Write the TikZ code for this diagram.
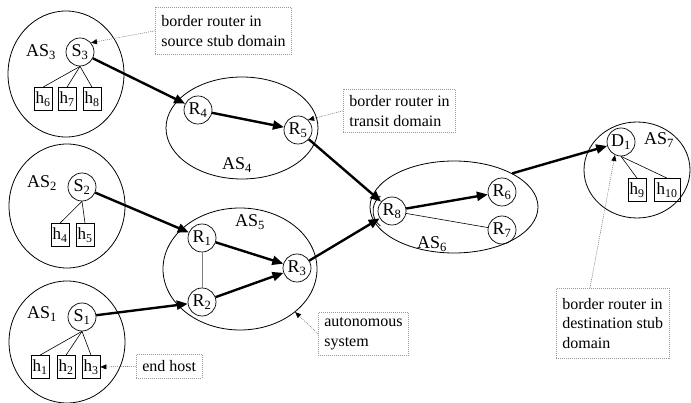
\documentclass[tikz,border=0pt]{standalone}
\usepackage{fontspec}
\setmainfont{Liberation Serif}
\usetikzlibrary{arrows.meta,shapes.geometric}
\begin{document}
\begin{tikzpicture}[x=1pt,y=-1pt,
  font=\fontsize{16}{19.5}\selectfont,
  lbl/.style={font=\fontsize{18}{20}\selectfont},
  dom/.style={draw,ellipse,line width=0.8pt,inner sep=0pt},
  rtr/.style={draw,circle,minimum size=28pt,inner sep=0pt,line width=0.7pt,font=\fontsize{18}{20}\selectfont},
  hst/.style={draw,rectangle,minimum width=18pt,minimum height=23pt,inner sep=0.5pt,line width=0.7pt,font=\fontsize{17}{20}\selectfont},
  flow/.style={line width=2.4pt,-{Triangle[length=11pt,width=9pt]}},
  link/.style={line width=0.6pt},
  callbox/.style={draw=gray!80,dash pattern=on 1pt off 1pt,line width=0.6pt,align=left,inner xsep=6pt,inner ysep=3pt,anchor=north west},
  callout/.style={draw=gray,dash pattern=on 1pt off 1pt,line width=0.6pt,-{Triangle[length=6pt,width=5pt,color=black]}}
]
\useasboundingbox (0,0) rectangle (691,403);

% domains
\node[dom,minimum width=116pt,minimum height=126pt] (AS3) at (66,74) {};
\node[dom,minimum width=116pt,minimum height=124pt] (AS2) at (67,206) {};
\node[dom,minimum width=116pt,minimum height=122pt] (AS1) at (67,342) {};
\node[dom,minimum width=152pt,minimum height=102pt] (AS4) at (242,128) {};
\node[dom,minimum width=154pt,minimum height=122pt] (AS5) at (240,269) {};
\node[dom,minimum width=168pt,minimum height=92pt] (AS6) at (454,207) {};
\node[dom,minimum width=106pt,minimum height=96pt] (AS7) at (637,170) {};

% domain labels
\node[lbl] (lAS3) at (41,52) {AS\textsubscript{3}};
\node[lbl] (lAS2) at (42,183) {AS\textsubscript{2}};
\node[lbl] (lAS1) at (42,314) {AS\textsubscript{1}};
\node[lbl] (lAS4) at (237,165) {AS\textsubscript{4}};
\node[lbl] (lAS5) at (250,222) {AS\textsubscript{5}};
\node[lbl] (lAS6) at (432,244) {AS\textsubscript{6}};
\node[lbl] (lAS7) at (659,140) {AS\textsubscript{7}};

% routers
\node[rtr] (S3) at (80,52) {S\textsubscript{3}};
\node[rtr] (S2) at (82,187) {S\textsubscript{2}};
\node[rtr] (S1) at (82,317) {S\textsubscript{1}};
\node[rtr] (R4) at (198,110) {R\textsubscript{4}};
\node[rtr] (R5) at (298,130) {R\textsubscript{5}};
\node[rtr] (R1) at (202,238) {R\textsubscript{1}};
\node[rtr] (R2) at (202,302) {R\textsubscript{2}};
\node[rtr] (R3) at (297,268) {R\textsubscript{3}};
\node[rtr] (R8) at (392,211) {R\textsubscript{8}};
\node[rtr] (R6) at (502,192) {R\textsubscript{6}};
\node[rtr] (R7) at (502,230) {R\textsubscript{7}};
\node[rtr] (D1) at (621,142) {D\textsubscript{1}};

% hosts
\node[hst] (h6) at (43,99) {h\textsubscript{6}};
\node[hst] (h7) at (67,99) {h\textsubscript{7}};
\node[hst] (h8) at (92,99) {h\textsubscript{8}};
\node[hst] (h4) at (60,235) {h\textsubscript{4}};
\node[hst] (h5) at (85,235) {h\textsubscript{5}};
\node[hst] (h1) at (40,367) {h\textsubscript{1}};
\node[hst] (h2) at (66,367) {h\textsubscript{2}};
\node[hst] (h3) at (91,367) {h\textsubscript{3}};
\node[hst] (h9) at (637,190) {h\textsubscript{9}};
\node[hst,minimum width=26pt] (h10) at (667,190) {h\textsubscript{10}};

% host links
\draw[link] (S3.south) -- (h6.north);
\draw[link] (S3.south) -- (h7.north);
\draw[link] (S3.south) -- (h8.north);
\draw[link] (S2.south) -- (h4.north);
\draw[link] (S2.south) -- (h5.north);
\draw[link] (S1.south) -- (h1.north);
\draw[link] (S1.south) -- (h2.north);
\draw[link] (S1.south) -- (h3.north);
\draw[link] (D1.south) -- (h9.north);
\draw[link] (D1.south) -- (h10.north);

% internal links
\draw[link,gray] (R1) -- (R2);
\draw[link] (R8) -- (R7);
\draw[line width=0.8pt] ([shift={(128:19)}]R8.center) arc[start angle=128,end angle=232,radius=19];

% flows
\draw[flow] (S3) -- (R4);
\draw[flow] (R4) -- (R5);
\draw[flow] (R5) -- (R8);
\draw[flow] (S2) -- (R1);
\draw[flow] (R1) -- (R3);
\draw[flow] (S1) -- (R2);
\draw[flow] (R2) -- (R3);
\draw[flow] (R3) -- (R8);
\draw[flow] (R8) -- (R6);
\draw[flow] (AS6.30) -- (D1);

% callouts
\node[callbox,minimum height=47pt] (cSrc) at (155,7) {border router in\\source stub domain};
\node[callbox,minimum height=43pt] (cTr) at (343,89) {border router in\\transit domain};
\node[callbox,minimum height=43pt] (cAS) at (318,312) {autonomous\\system};
\node[callbox,minimum height=24pt] (cEH) at (136,354) {end host};
\node[callbox,minimum height=70pt] (cDst) at (556,288) {border router in\\destination stub\\domain};

\draw[callout] (cSrc.west) -- (S3.40);
\draw[callout] (cTr.west) -- (R5.45);
\draw[callout] (cAS.west) -- (AS5.-38);
\draw[callout] (cEH.west) -- (h3.east);
\draw[callout] ([xshift=34pt]cDst.north west) -- (D1.-115);
\end{tikzpicture}
\end{document}
